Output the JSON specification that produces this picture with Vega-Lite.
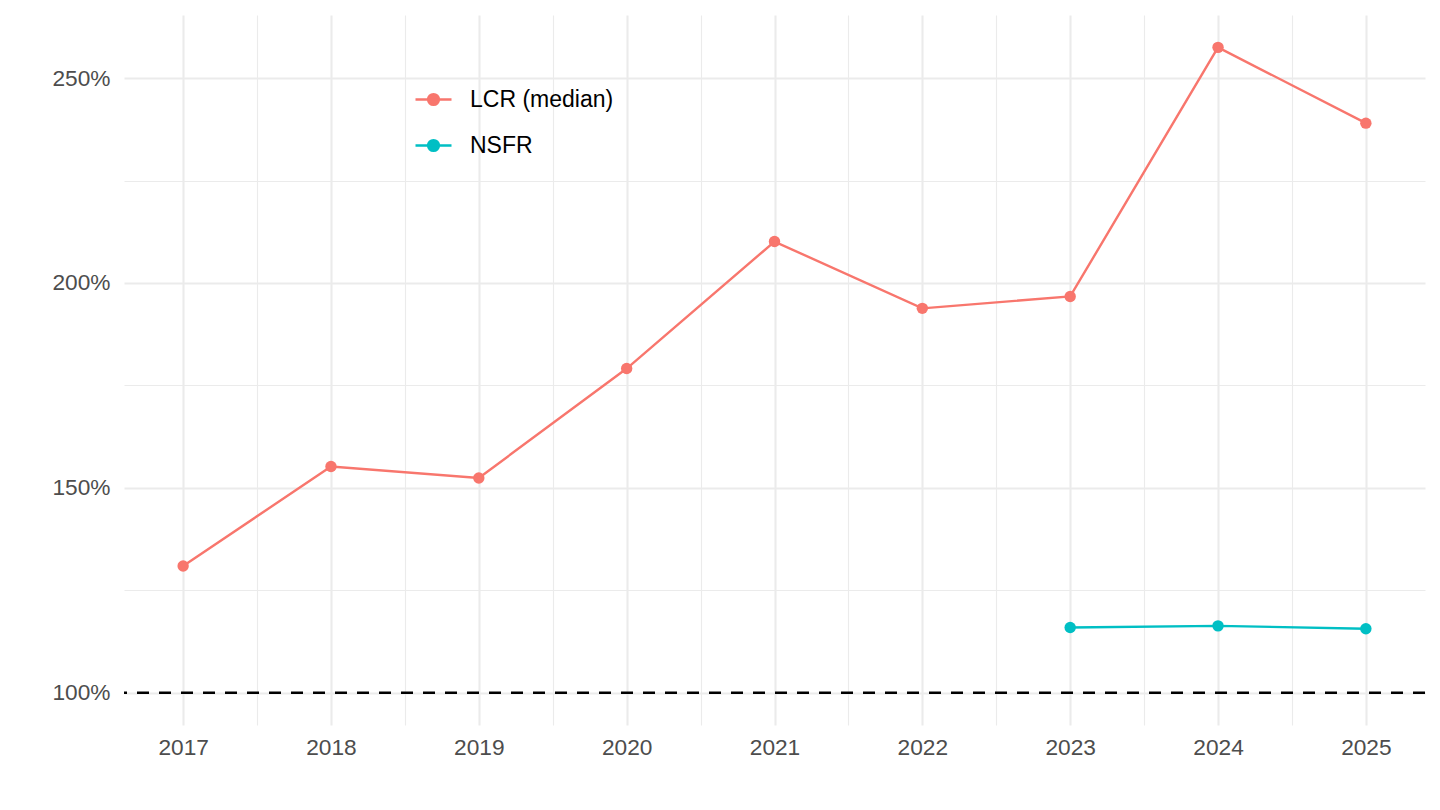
{
  "$schema": "https://vega.github.io/schema/vega-lite/v6.json",
  "width": 1301,
  "height": 710,
  "autosize": {"type": "none"},
  "padding": {"left": 124, "top": 15, "right": 15, "bottom": 85},
  "background": "#ffffff",
  "datasets": {
    "ratios": [
      {"year": 2017, "series": "LCR (median)", "ratio": 130.9},
      {"year": 2018, "series": "LCR (median)", "ratio": 155.2},
      {"year": 2019, "series": "LCR (median)", "ratio": 152.4},
      {"year": 2020, "series": "LCR (median)", "ratio": 179.1},
      {"year": 2021, "series": "LCR (median)", "ratio": 210.1},
      {"year": 2022, "series": "LCR (median)", "ratio": 193.8},
      {"year": 2023, "series": "LCR (median)", "ratio": 196.7},
      {"year": 2024, "series": "LCR (median)", "ratio": 257.5},
      {"year": 2025, "series": "LCR (median)", "ratio": 239.0},
      {"year": 2023, "series": "NSFR", "ratio": 115.9},
      {"year": 2024, "series": "NSFR", "ratio": 116.3},
      {"year": 2025, "series": "NSFR", "ratio": 115.6}
    ],
    "threshold": [{"level": 100}]
  },
  "layer": [
    {
      "data": {"name": "ratios"},
      "mark": {"type": "line", "strokeWidth": 2.4},
      "encoding": {
        "x": {
          "field": "year",
          "type": "quantitative",
          "scale": {"domain": [2016.6, 2025.4], "nice": false, "zero": false},
          "axis": {
            "orient": "bottom",
            "title": null,
            "values": [2017, 2018, 2019, 2020, 2021, 2022, 2023, 2024, 2025],
            "format": "d",
            "grid": true,
            "gridColor": "#ebebeb",
            "gridWidth": 2.1,
            "domain": false,
            "ticks": false,
            "tickSize": 0,
            "labelPadding": 11,
            "labelFont": "Liberation Sans",
            "labelFontSize": 22.7,
            "labelColor": "#4d4d4d"
          }
        },
        "y": {
          "field": "ratio",
          "type": "quantitative",
          "scale": {"domain": [92.1, 265.4], "nice": false, "zero": false},
          "axis": {
            "orient": "left",
            "title": null,
            "values": [100, 150, 200, 250],
            "labelExpr": "datum.value + '%'",
            "grid": true,
            "gridColor": "#ebebeb",
            "gridWidth": 2.1,
            "domain": false,
            "ticks": false,
            "tickSize": 0,
            "labelPadding": 14,
            "labelFont": "Liberation Sans",
            "labelFontSize": 22.7,
            "labelColor": "#4d4d4d"
          }
        },
        "color": {
          "field": "series",
          "type": "nominal",
          "scale": {"domain": ["LCR (median)", "NSFR"], "range": ["#F8766D", "#00BFC4"]},
          "legend": {
            "orient": "none",
            "legendX": 290,
            "legendY": 65,
            "title": null,
            "padding": 0,
            "symbolType": "M-1,0L1,0M0.3,0A0.3,0.3,0,1,1,-0.3,0A0.3,0.3,0,1,1,0.3,0Z",
            "symbolSize": 1296,
            "symbolStrokeWidth": 2.4,
            "labelFont": "Liberation Sans",
            "labelFontSize": 23,
            "labelColor": "#000000",
            "labelOffset": 17,
            "rowPadding": 14,
            "encode": {
              "symbols": {
                "update": {
                  "fill": {"scale": "color", "field": "value"},
                  "stroke": {"scale": "color", "field": "value"},
                  "opacity": {"value": 1}
                }
              }
            }
          }
        }
      }
    },
    {
      "data": {"name": "ratios"},
      "mark": {"type": "point", "filled": true, "size": 130, "opacity": 1, "strokeWidth": 0},
      "encoding": {
        "x": {
          "field": "year",
          "type": "quantitative",
          "axis": {
            "orient": "top",
            "title": null,
            "values": [2017.5, 2018.5, 2019.5, 2020.5, 2021.5, 2022.5, 2023.5, 2024.5],
            "labels": false,
            "grid": true,
            "gridColor": "#ebebeb",
            "gridWidth": 1.1,
            "domain": false,
            "ticks": false
          }
        },
        "y": {
          "field": "ratio",
          "type": "quantitative",
          "axis": {
            "orient": "right",
            "title": null,
            "values": [125, 175, 225],
            "labels": false,
            "grid": true,
            "gridColor": "#ebebeb",
            "gridWidth": 1.1,
            "domain": false,
            "ticks": false
          }
        },
        "color": {"field": "series", "type": "nominal"}
      }
    },
    {
      "data": {"name": "threshold"},
      "mark": {"type": "rule", "color": "#000000", "strokeWidth": 2.5, "strokeDash": [12, 10]},
      "encoding": {
        "y": {"field": "level", "type": "quantitative", "axis": null}
      }
    }
  ],
  "resolve": {"axis": {"x": "independent", "y": "independent"}},
  "config": {
    "view": {"stroke": null}
  }
}
